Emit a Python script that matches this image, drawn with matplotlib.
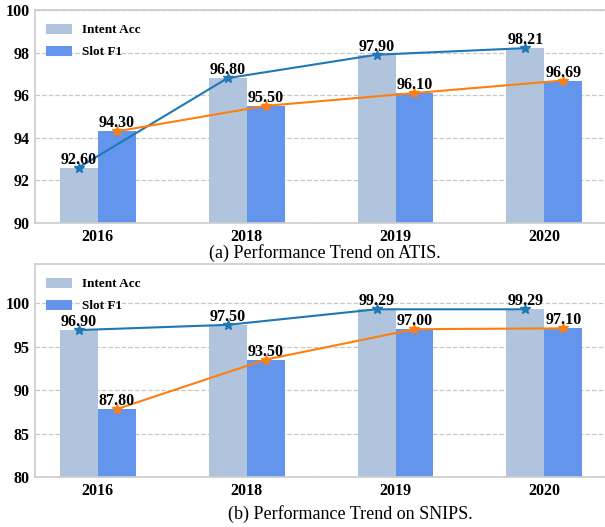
import numpy as np
import matplotlib
matplotlib.use("Agg")
from matplotlib import pyplot as plt

YEARS = ["2016", "2018", "2019", "2020"]

ATIS_INTENT = [92.60, 96.80, 97.90, 98.21]
ATIS_SLOT = [94.30, 95.50, 96.10, 96.69]

SNIPS_INTENT = [96.90, 97.50, 99.29, 99.29]
SNIPS_SLOT = [87.80, 93.50, 97.00, 97.10]

plt.rcParams["font.family"] = ["Liberation Serif", "DejaVu Serif"]

fig = plt.figure(figsize=(6.05, 5.27), dpi=100)


def panel(rect, intent, slot, ylim, yticks):
    ax = fig.add_axes(rect)
    x = np.arange(len(YEARS))
    w = 0.255
    ax.bar(x - w / 2, intent, w, color="#b0c4de", label="Intent Acc", zorder=2)
    ax.bar(x + w / 2, slot, w, color="#6495ed", label="Slot F1", zorder=2)
    ax.plot(x - w / 2, intent, color="#1f77b4", marker="*", markersize=7, lw=1.5, zorder=4)
    ax.plot(x + w / 2, slot, color="#ff7f0e", marker="*", markersize=7, lw=1.5, zorder=4)
    for xi, v in zip(x - w / 2, intent):
        ax.text(xi, v, "%.2f" % v, ha="center", va="bottom", fontsize=11.5, fontweight="bold", zorder=5)
    for xi, v in zip(x + w / 2, slot):
        ax.text(xi, v, "%.2f" % v, ha="center", va="bottom", fontsize=11.5, fontweight="bold", zorder=5)

    ax.set_xlim(-0.42, 3.46)
    ax.set_ylim(*ylim)
    ax.set_yticks(yticks)
    ax.set_xticks(x)
    ax.set_xticklabels(YEARS)
    ax.tick_params(length=0, labelsize=11.5, pad=4)
    for lab in ax.get_xticklabels() + ax.get_yticklabels():
        lab.set_fontweight("bold")
    ax.grid(axis="y", ls="--", color="#c8c8c8", lw=0.9, zorder=0)
    for s in ax.spines.values():
        s.set_color("#cccccc")
        s.set_linewidth(1.2)
    ax.legend(loc="upper left", frameon=False, prop={"weight": "bold", "size": 9.5},
              handlelength=2.0, handleheight=0.8, borderaxespad=0.4, labelspacing=0.7,
              handletextpad=0.8, bbox_to_anchor=(0.0, 0.985))
    return ax


panel([35 / 605, 1 - 223 / 527, 578 / 605, 213 / 527], ATIS_INTENT, ATIS_SLOT,
      (90, 100), [90, 92, 94, 96, 98, 100])
panel([35 / 605, 1 - 477 / 527, 578 / 605, 213 / 527], SNIPS_INTENT, SNIPS_SLOT,
      (80, 104.5), [80, 85, 90, 95, 100])

fig.text(325 / 605, 1 - 253 / 527, "(a) Performance Trend on ATIS.", ha="center", va="center", fontsize=13)
fig.text(350 / 605, 1 - 514 / 527, "(b) Performance Trend on SNIPS.", ha="center", va="center", fontsize=13)

fig.savefig("out.png", dpi=100)
